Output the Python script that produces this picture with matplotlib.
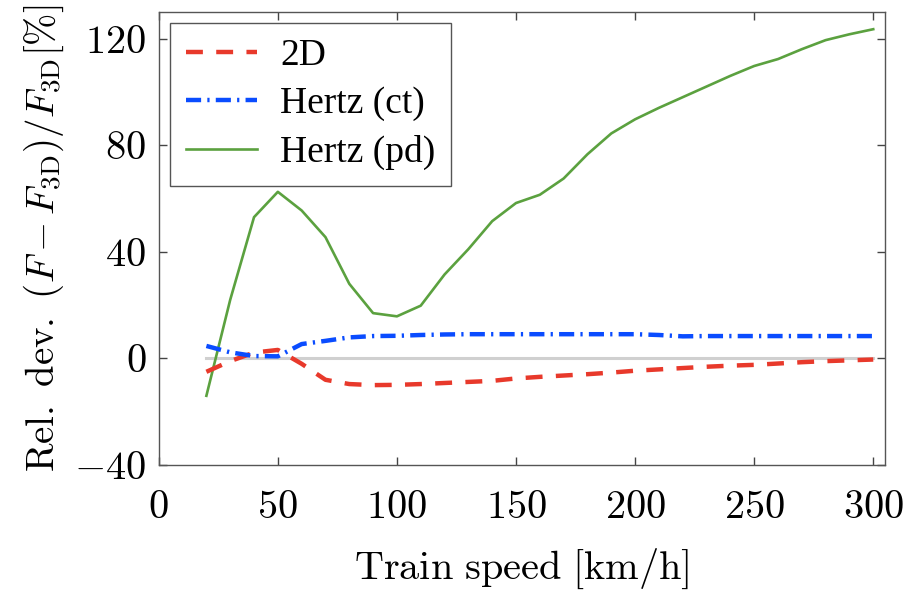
import matplotlib
matplotlib.use('Agg')
import matplotlib.pyplot as plt
import matplotlib.ticker as plticker

plt.rcParams['mathtext.fontset'] = 'cm'
plt.rcParams['font.family'] = ['Liberation Serif', 'DejaVu Serif']

# train speed in km/h
speed = [20, 30, 40, 50, 60, 70, 80, 90, 100, 110, 120, 130, 140, 150, 160,
         170, 180, 190, 200, 210, 220, 230, 240, 250, 260, 270, 280, 290, 300]

# relative deviation in %
dev_2d = [-5.0, -1.0, 2.2, 3.2, -2.0, -8.0, -9.6, -10.0, -9.9, -9.6, -9.2, -8.8,
          -8.4, -7.5, -6.9, -6.4, -5.9, -5.3, -4.6, -4.1, -3.6, -3.1, -2.7,
          -2.4, -1.9, -1.4, -1.0, -0.7, -0.4]
dev_ct = [4.7, 2.3, 0.9, 0.8, 5.4, 6.6, 7.9, 8.4, 8.5, 8.8, 9.0, 9.1, 9.1, 9.1,
          9.1, 9.1, 9.1, 9.1, 9.1, 8.8, 8.3, 8.4, 8.4, 8.4, 8.4, 8.4, 8.4, 8.4, 8.4]
dev_pd = [-14.0, 22.0, 53.0, 62.5, 55.5, 45.5, 28.0, 17.0, 15.8, 19.8, 31.5,
          41.0, 51.5, 58.3, 61.4, 67.5, 76.6, 84.4, 89.7, 94.0, 98.0, 102.0,
          106.0, 109.7, 112.3, 116.0, 119.4, 121.6, 123.5]

xticks = [0, 50, 100, 150, 200, 250, 300]
yticks = [-40, 0, 40, 80, 120]

fig = plt.figure(figsize=(9.23, 5.94), dpi=100)
ax = fig.add_axes([0.172, 0.217, 0.787, 0.763])

# zero reference line
ax.plot([speed[0], speed[-1]], [0, 0], color='#d0d0d0', linewidth=2.2, zorder=1)

ax.plot(speed, dev_2d, color='#e8392b', linewidth=3.2,
        linestyle=(0, (3.8, 3.0)), label='2D', zorder=3)
ax.plot(speed, dev_ct, color='#0a4cff', linewidth=3.2,
        linestyle=(0, (3.4, 1.4, 0.5, 1.4)), label='Hertz (ct)', zorder=3)
ax.plot(speed, dev_pd, color='#5ba13f', linewidth=1.9,
        label='Hertz (pd)', zorder=2)

ax.set_xlim(0, 305)
ax.set_ylim(-40, 130)
ax.xaxis.set_major_locator(plticker.FixedLocator(xticks))
ax.yaxis.set_major_locator(plticker.FixedLocator(yticks))
fmt = plticker.FuncFormatter(lambda v, _: '$%d$' % v)
ax.xaxis.set_major_formatter(fmt)
ax.yaxis.set_major_formatter(fmt)
ax.tick_params(direction='in', length=6, width=1.0, color='#444444',
               top=True, right=True, labelsize=29, pad=9)
ax.tick_params(axis='x', pad=18)
for s in ax.spines.values():
    s.set_color('#555555')
    s.set_linewidth(1.0)

ax.set_xlabel(r'$\mathrm{Train\ speed\ [km/h]}$', fontsize=29, labelpad=14)
ax.set_ylabel(r'$\mathrm{Rel.\ dev.}\ (F - F_{\mathrm{3D}})/F_{\mathrm{3D}}[\%]$',
              fontsize=28, labelpad=6)

leg = ax.legend(loc='upper left', fontsize=27, fancybox=False, framealpha=1,
                edgecolor='#555555', handlelength=1.9, handletextpad=0.6,
                labelspacing=0.36, borderpad=0.42, borderaxespad=0.0,
                bbox_to_anchor=(0.016, 0.976))
leg.get_frame().set_linewidth(1.0)

fig.savefig('out.png', dpi=100)
